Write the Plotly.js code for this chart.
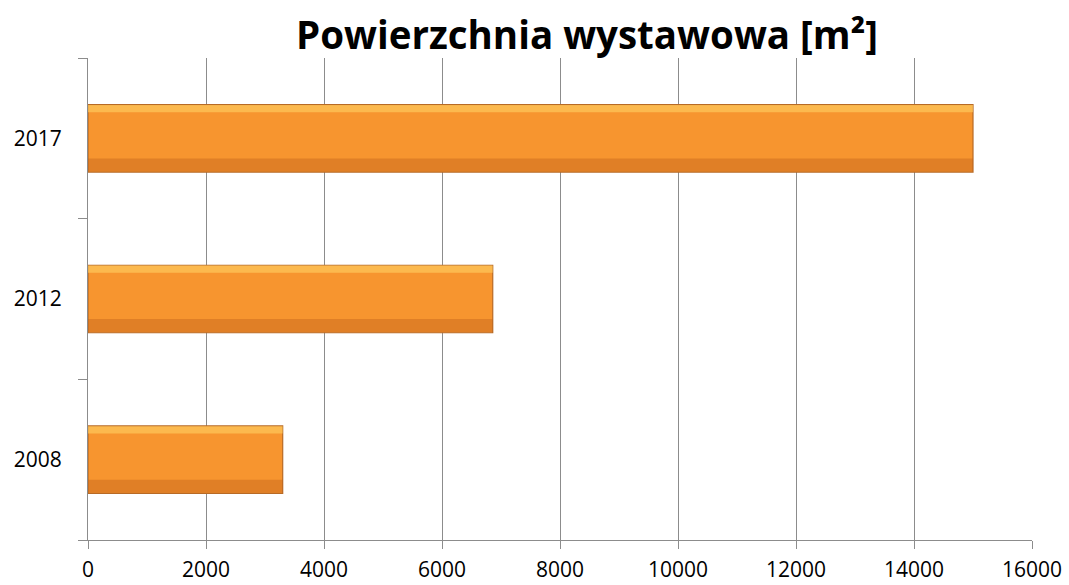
<!DOCTYPE html>
<html>
<head>
<meta charset="utf-8">
<script src="https://cdn.plot.ly/plotly-3.0.1.min.js"></script>
<style>html,body{margin:0;padding:0;background:#fff;}#chart{width:1069px;height:585px;}</style>
</head>
<body>
<div id="chart"></div>
<script>
const years = ['2008', '2012', '2017'];
const area = [3300, 6860, 15000];
const xTicks = [0, 2000, 4000, 6000, 8000, 10000, 12000, 14000, 16000];
const chartTitle = 'Powierzchnia wystawowa [m²]';

const traces = [{
  type: 'bar',
  orientation: 'h',
  y: years,
  x: area,
  width: 0.42,
  marker: {color: '#F7952F', line: {color: '#B86A25', width: 1.2}},
  hoverinfo: 'x+y'
}, {
  type: 'bar',
  orientation: 'h',
  y: years,
  x: area,
  width: 0.045,
  offset: 0.163,
  marker: {color: 'rgba(255,210,100,0.6)', line: {width: 0}},
  hoverinfo: 'skip'
}, {
  type: 'bar',
  orientation: 'h',
  y: years,
  x: area,
  width: 0.08,
  offset: -0.205,
  marker: {color: 'rgba(190,95,25,0.4)', line: {width: 0}},
  hoverinfo: 'skip'
}];

const layout = {
  width: 1069,
  height: 585,
  margin: {l: 88, r: 37, t: 58, b: 45},
  paper_bgcolor: '#ffffff',
  plot_bgcolor: '#ffffff',
  showlegend: false,
  barmode: 'overlay',
  title: {
    text: '<b>' + chartTitle + '</b>',
    font: {family: 'Open Sans', size: 38.5, color: '#000'},
    x: 0.5286, xanchor: 'center', xref: 'paper',
    y: 0.94, yanchor: 'middle', yref: 'container'
  },
  xaxis: {
    range: [0, 16000],
    tickvals: xTicks,
    ticktext: xTicks.map(String),
    showgrid: true,
    gridcolor: '#8C8C8C',
    gridwidth: 1,
    zeroline: false,
    showline: true,
    linecolor: '#8C8C8C',
    linewidth: 1,
    ticks: 'outside',
    ticklen: 8,
    tickcolor: '#8C8C8C',
    ticklabelstandoff: 3,
    tickfont: {family: 'Open Sans', size: 21, color: '#000'},
    fixedrange: true
  },
  yaxis: {
    type: 'category',
    categoryorder: 'array',
    categoryarray: years,
    tickson: 'boundaries',
    ticks: 'outside',
    ticklen: 9,
    tickcolor: '#8C8C8C',
    showgrid: false,
    showline: true,
    linecolor: '#8C8C8C',
    linewidth: 1,
    ticklabelstandoff: 21,
    tickfont: {family: 'Open Sans', size: 21, color: '#000'},
    fixedrange: true
  }
};

Plotly.newPlot('chart', traces, layout, {displayModeBar: false, staticPlot: true});
</script>
</body>
</html>
